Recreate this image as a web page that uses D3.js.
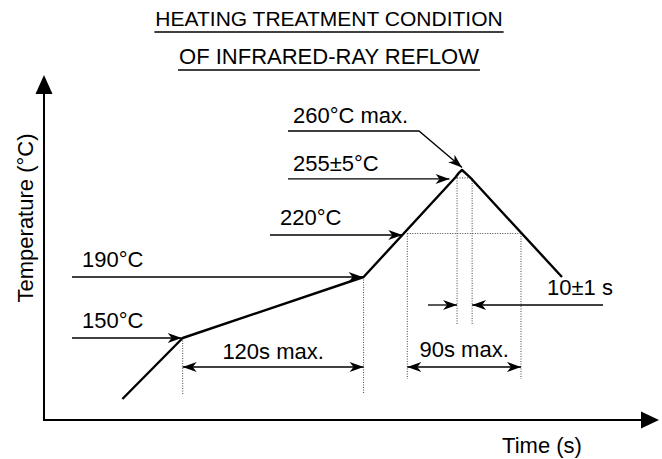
<!DOCTYPE html>
<html>
<head>
<meta charset="utf-8">
<script src="https://cdnjs.cloudflare.com/ajax/libs/d3/7.8.5/d3.min.js"></script>
<style>
body { margin: 0; background: #fff; }
text { font-family: "Liberation Sans", Arial, sans-serif; font-size: 22px; fill: #000; }
</style>
</head>
<body>
<div id="chart"></div>
<script>
// reflow profile, time (s) and temperature (C)
var profileTime = [52, 92, 212, 273, 275, 277.3, 279.6, 282.6, 343.6];
var profileTemp = [110, 150, 190, 255.4, 258, 260, 258, 255.4, 190];

// temperature levels pointed at by the leaders
var levelTemps = [150, 190, 220, 255, 260];
var levelLabels = ['150°C', '190°C', '220°C', '255±5°C', '260°C max.'];
var levelTimes = [92, 212, 241, 273, 277.3];

// time windows
var preheatTimes = [92, 212];       // 150..190
var reflowTimes = [241, 316.4];     // above 220
var peakTimes = [274, 284];         // above 255
var windowLabels = ['120s max.', '90s max.', '10±1 s'];

var titleLines = ['HEATING TREATMENT CONDITION', 'OF INFRARED-RAY REFLOW'];
var titleSizes = [21, 22];

var width = 662, height = 459;
var svg = d3.select('#chart').append('svg')
    .attr('width', width)
    .attr('height', height);

// schematic axes: no ticks, scale is piecewise like the drawing
var x = d3.scaleLinear().domain([0, 400]).range([44, 647]);
var y = d3.scaleLinear().domain([150, 190, 220, 260]).range([338, 277, 233.5, 170]);
var ox = x(0), oy = 420;

var defs = svg.append('defs');
defs.append('marker')
    .attr('id', 'arr')
    .attr('viewBox', '-15 -6 16 12')
    .attr('refX', 0).attr('refY', 0)
    .attr('markerWidth', 16).attr('markerHeight', 12)
    .attr('markerUnits', 'userSpaceOnUse')
    .attr('orient', 'auto-start-reverse')
    .append('path')
    .attr('d', 'M0,0L-14,-5L-10,0L-14,5Z')
    .style('fill', '#000');

// title
titleLines.forEach(function (s, i) {
    var t = svg.append('text')
        .text(s)
        .attr('x', 329)
        .attr('y', 26 + i * 38)
        .attr('text-anchor', 'middle')
        .style('font-size', titleSizes[i] + 'px');
    var w = t.node().getComputedTextLength() + 2;
    svg.append('line')
        .attr('x1', 329 - w / 2).attr('x2', 329 + w / 2)
        .attr('y1', 32 + i * 38).attr('y2', 32 + i * 38)
        .style('stroke', '#000').style('stroke-width', 1.5);
});

// axes
var axis = svg.append('g').style('stroke', '#000').style('stroke-width', 2).style('fill', 'none');
axis.append('path').attr('d', 'M' + ox + ',93V' + oy + 'H642');
svg.append('path').attr('d', 'M' + ox + ',75L' + (ox - 8.5) + ',94L' + (ox + 8.5) + ',94Z').style('fill', '#000');
svg.append('path').attr('d', 'M659,' + oy + 'L641,' + (oy - 8.5) + 'L641,' + (oy + 8.5) + 'Z').style('fill', '#000');

svg.append('text')
    .text('Temperature (°C)')
    .attr('text-anchor', 'middle')
    .attr('transform', 'translate(33,218) rotate(-90)');
svg.append('text')
    .text('Time (s)')
    .attr('x', 542)
    .attr('y', 453)
    .attr('text-anchor', 'middle');

// dotted guides
var dots = svg.append('g')
    .style('stroke', '#444').style('stroke-width', 1)
    .style('stroke-dasharray', '1,1.5').style('fill', 'none');

function vdot(t, temp, yEnd) {
    dots.append('line')
        .attr('x1', x(t)).attr('x2', x(t))
        .attr('y1', y(temp)).attr('y2', yEnd);
}
vdot(preheatTimes[0], 150, 394);
vdot(preheatTimes[1], 190, 394);
vdot(reflowTimes[0], 220, 379);
vdot(reflowTimes[1], 220, 379);
dots.append('line')
    .attr('x1', x(reflowTimes[0])).attr('x2', x(reflowTimes[1]))
    .attr('y1', y(220)).attr('y2', y(220));
vdot(peakTimes[0], 255, 325);
vdot(peakTimes[1], 255, 325);
dots.append('line')
    .attr('x1', x(peakTimes[0])).attr('x2', x(peakTimes[1]))
    .attr('y1', y(255)).attr('y2', y(255));

// profile
var line = d3.line()
    .x(function (d) { return x(d[0]); })
    .y(function (d) { return y(d[1]); });
svg.append('path')
    .datum(d3.zip(profileTime, profileTemp))
    .attr('d', line)
    .style('fill', 'none')
    .style('stroke', '#000')
    .style('stroke-width', 2.4)
    .style('stroke-linejoin', 'round');

// leaders
var lead = svg.append('g').style('stroke', '#000').style('stroke-width', 1.3).style('fill', 'none');
var leaderStart = [72, 72, 270, 288, 288];
var leaderGap = [1, 1, 5, 6, 0];
var leaderDy = [0, 0, 1.5, 1, -39];

levelTemps.forEach(function (temp, i) {
    var ly = y(temp) + leaderDy[i];
    var tipX = x(levelTimes[i]) - leaderGap[i];
    var d;
    if (i === 4) {
        d = 'M' + leaderStart[i] + ',' + ly + 'H419L' + tipX + ',' + (y(temp) - 2.5);
    } else {
        d = 'M' + leaderStart[i] + ',' + ly + 'H' + tipX;
    }
    lead.append('path').attr('d', d).attr('marker-end', 'url(#arr)');
    svg.append('text')
        .text(levelLabels[i])
        .attr('x', leaderStart[i] + (i >= 3 ? 5 : 10))
        .attr('y', ly - (i >= 3 ? 8 : 10));
});

// window dimensions
function span(times, yy, label, ty) {
    lead.append('line')
        .attr('x1', x(times[0])).attr('x2', x(times[1]))
        .attr('y1', yy).attr('y2', yy)
        .attr('marker-start', 'url(#arr)')
        .attr('marker-end', 'url(#arr)');
    svg.append('text')
        .text(label)
        .attr('x', (x(times[0]) + x(times[1])) / 2)
        .attr('y', ty)
        .attr('text-anchor', 'middle');
}
span(preheatTimes, 367, windowLabels[0], 359);
span(reflowTimes, 367, windowLabels[1], 357);

lead.append('line')
    .attr('x1', 428).attr('x2', x(peakTimes[0]))
    .attr('y1', 305).attr('y2', 305)
    .attr('marker-end', 'url(#arr)');
lead.append('line')
    .attr('x1', 603).attr('x2', x(peakTimes[1]))
    .attr('y1', 305).attr('y2', 305)
    .attr('marker-end', 'url(#arr)');
svg.append('text')
    .text(windowLabels[2])
    .attr('x', 547)
    .attr('y', 295);
</script>
</body>
</html>
